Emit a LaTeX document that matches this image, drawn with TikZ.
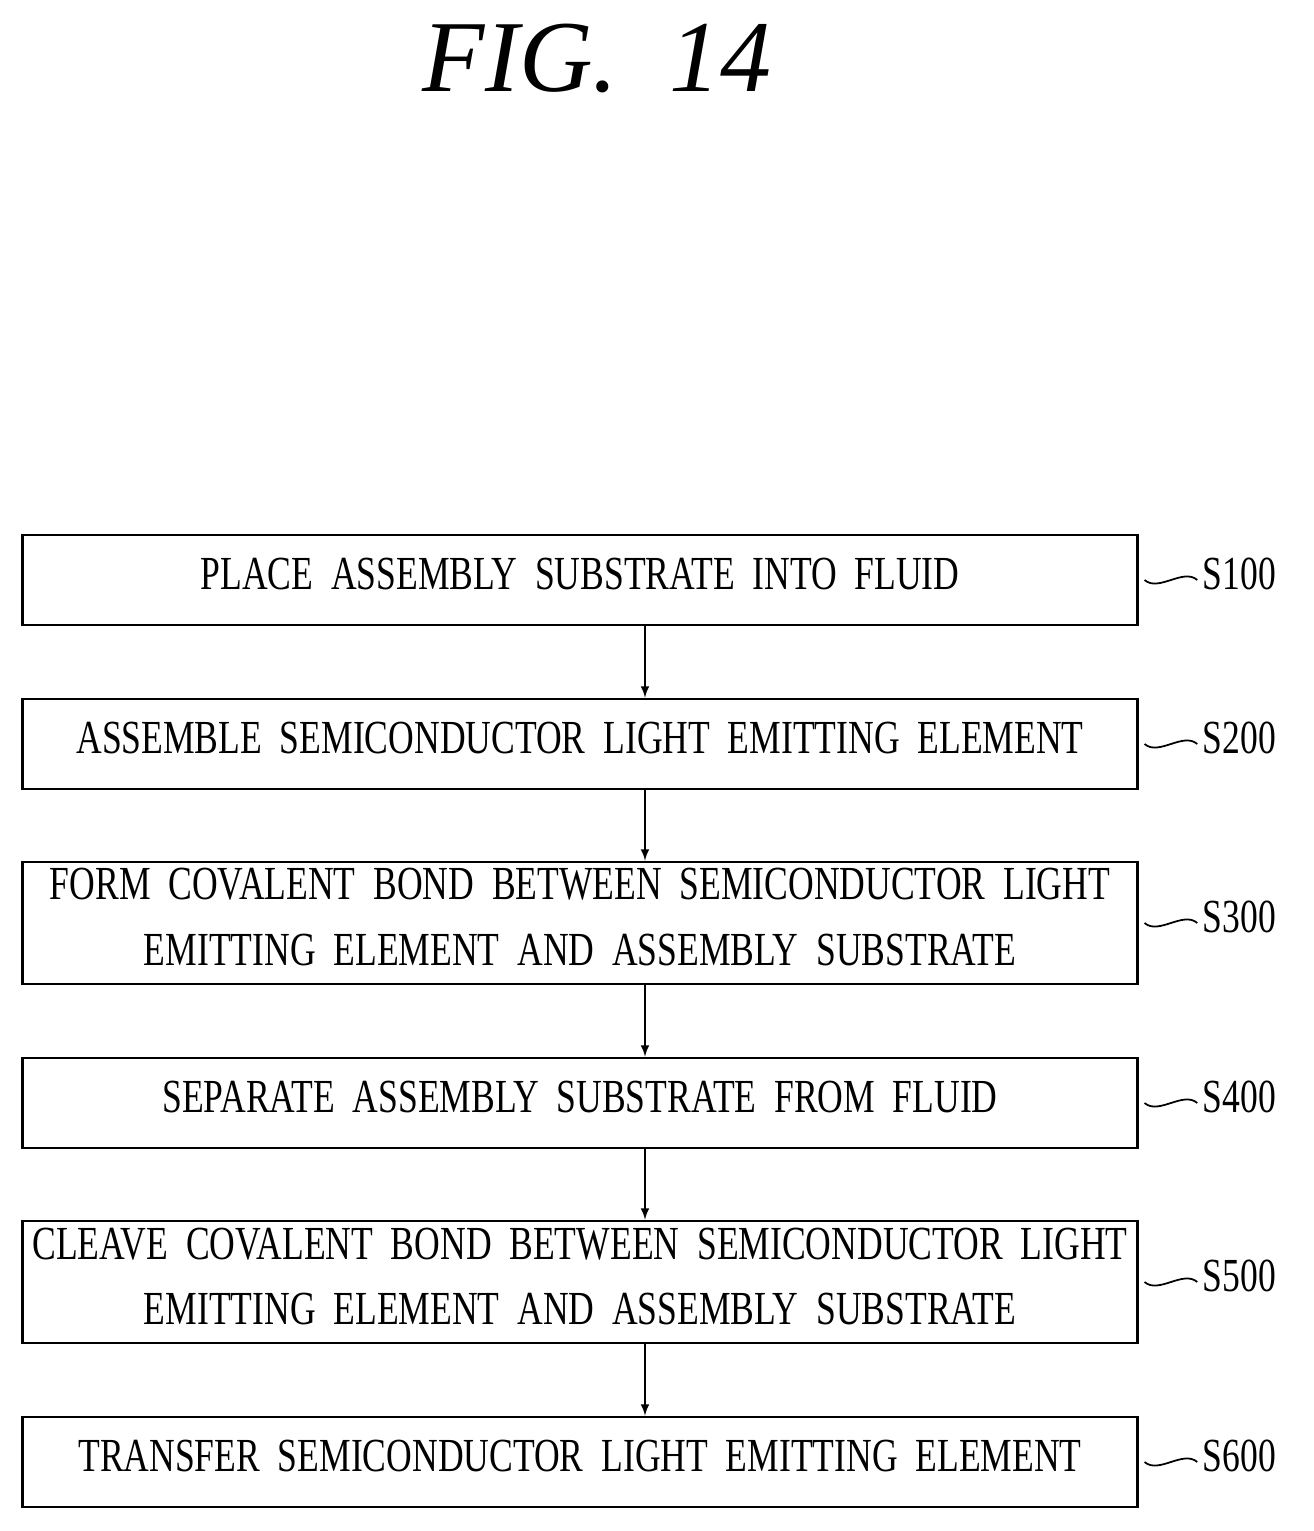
\documentclass[tikz,border=0pt]{standalone}
\usepackage{fontspec}
\setmainfont{Liberation Serif}
\usetikzlibrary{positioning}
\newcommand{\narrow}[1]{\scalebox{0.75}[1]{\begin{tabular}{@{}c@{}}#1\end{tabular}}}
\begin{document}
\begin{tikzpicture}
[
x=0.02cm, y=-0.02cm,
stepbox/.style={rectangle, draw=black, line width=1.6pt, minimum width=22.32cm, inner sep=0pt,
      font=\fontsize{27}{27}\selectfont},
steplabel/.style={font=\fontsize{27}{27}\selectfont, anchor=west, inner sep=0pt},
flow/.style={-latex, line width=1.2pt}
]
\useasboundingbox (0,0) rectangle (1314,1531);
\node at (597,58) (title) {\fontsize{58}{58}\selectfont\itshape FIG.\ \ 14};

%steps
\node[stepbox, minimum height=1.8cm] at (580,580) (s1) {\narrow{PLACE\ \ ASSEMBLY\ \ SUBSTRATE\ \ INTO\ \ FLUID}};
\node[stepbox, minimum height=1.8cm] at (580,744) (s2) {\narrow{ASSEMBLE\ \ SEMICONDUCTOR\ \ LIGHT\ \ EMITTING\ \ ELEMENT}};
\node[stepbox, minimum height=2.44cm] at (580,923) (s3) {\narrow{FORM\ \ COVALENT\ \ BOND\ \ BETWEEN\ \ SEMICONDUCTOR\ \ LIGHT\\[10pt] EMITTING\ \ ELEMENT\ \ AND\ \ ASSEMBLY\ \ SUBSTRATE}};
\node[stepbox, minimum height=1.8cm] at (580,1103) (s4) {\narrow{SEPARATE\ \ ASSEMBLY\ \ SUBSTRATE\ \ FROM\ \ FLUID}};
\node[stepbox, minimum height=2.44cm] at (580,1282) (s5) {\narrow{CLEAVE\ \ COVALENT\ \ BOND\ \ BETWEEN\ \ SEMICONDUCTOR\ \ LIGHT\\[10pt] EMITTING\ \ ELEMENT\ \ AND\ \ ASSEMBLY\ \ SUBSTRATE}};
\node[stepbox, minimum height=1.8cm] at (580,1462) (s6) {\narrow{TRANSFER\ \ SEMICONDUCTOR\ \ LIGHT\ \ EMITTING\ \ ELEMENT}};

%arrows
\foreach \a/\b in {s1/s2, s2/s3, s3/s4, s4/s5, s5/s6}
  \draw[flow] ([xshift=1.3cm]\a.south) -- ([xshift=1.3cm]\b.north);

%labels
\foreach \s/\t in {s1/S100, s2/S200, s3/S300, s4/S400, s5/S500, s6/S600}{
  \node[steplabel, right=36pt of \s.east] (\s l) {\narrow{\t}};
  \draw[line width=1pt] ([xshift=3pt]\s.east) .. controls +(8pt,-7pt) and +(-8pt,7pt) .. ([xshift=-3pt]\s l.west);
}
\end{tikzpicture}
\end{document}
